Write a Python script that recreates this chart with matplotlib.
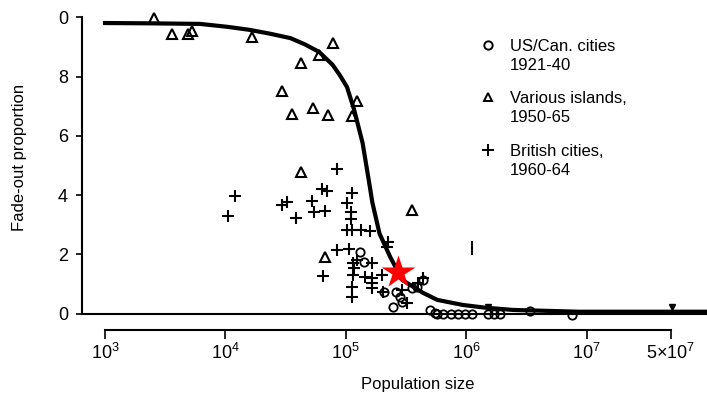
import matplotlib
matplotlib.use("Agg")
import matplotlib.pyplot as plt
import numpy as np
from matplotlib.lines import Line2D

plt.rcParams['font.family'] = ['Liberation Sans', 'DejaVu Sans']
plt.rcParams['mathtext.fontset'] = 'custom'
plt.rcParams['mathtext.rm'] = 'Liberation Sans'
plt.rcParams['mathtext.it'] = 'Liberation Sans'

# fitted curve (log10 population, fade-out proportion)
curve_logpop = [3.0, 3.37, 3.79, 4.02, 4.2, 4.37, 4.54, 4.66, 4.78, 4.89, 4.95, 5.01,
                5.07, 5.14, 5.2, 5.22, 5.28, 5.37, 5.47, 5.64, 5.76, 5.97, 6.15, 6.39,
                6.94, 7.5, 8.0]
curve_fade = [0.981, 0.980, 0.978, 0.968, 0.958, 0.945, 0.93, 0.909, 0.883, 0.840, 0.805,
              0.765, 0.687, 0.575, 0.427, 0.376, 0.27, 0.19, 0.113, 0.07, 0.046, 0.029,
              0.02, 0.012, 0.006, 0.006, 0.006]

# US/Canadian cities 1921-40
us_logpop = [5.12, 5.15, 5.32, 5.42, 5.45, 5.39, 5.47, 5.55, 5.59, 5.64, 5.70, 5.74,
             5.76, 5.81, 5.87, 5.93, 5.99, 6.05, 6.18, 6.23, 6.28, 6.53, 6.88]
us_fade = [0.208, 0.173, 0.073, 0.073, 0.056, 0.022, 0.039, 0.086, 0.090, 0.113, 0.012, 0.002,
           0.0, 0.0, 0.0, 0.0, 0.0, 0.0, 0.0, 0.0, 0.0, 0.01, -0.006]

# various islands 1950-65
isl_logpop = [3.41, 3.56, 3.69, 3.72, 4.22, 4.89, 4.78, 4.63, 4.47, 5.09, 4.73, 4.55,
              4.85, 5.05, 4.63, 5.55, 4.83]
isl_fade = [0.998, 0.944, 0.944, 0.954, 0.934, 0.914, 0.873, 0.846, 0.752, 0.718, 0.694,
            0.674, 0.671, 0.667, 0.478, 0.350, 0.191]

# British cities 1960-64
brit_logpop = [4.08, 4.02, 4.47, 4.51, 4.59, 4.72, 4.74, 4.83, 4.80, 4.84, 4.93, 5.05,
               5.01, 5.04, 5.04, 5.01, 5.05, 5.13, 5.20, 5.35, 4.93, 5.03, 4.81, 5.06,
               5.09, 5.07, 5.06, 5.16, 5.22, 5.22, 5.22, 5.05, 5.05, 5.30, 5.64, 5.60,
               5.22, 5.47, 5.51, 5.31, 5.34]
brit_fade = [0.397, 0.329, 0.367, 0.377, 0.323, 0.380, 0.343, 0.346, 0.421, 0.414, 0.488,
             0.407, 0.373, 0.343, 0.319, 0.282, 0.282, 0.282, 0.279, 0.242, 0.215, 0.218,
             0.127, 0.171, 0.181, 0.154, 0.130, 0.123, 0.120, 0.103, 0.086, 0.090, 0.056,
             0.130, 0.120, 0.103, 0.171, 0.079, 0.035, 0.073, 0.225]

# stray marks in the scan
tri_logpop = [6.18, 7.71]
tri_fade = [0.022, 0.022]
bar_logpop = [6.05]
bar_fade = [0.22]

# highlighted point
star_logpop = [5.43]
star_fade = [0.140]

yticks = [0, 0.2, 0.4, 0.6, 0.8, 1.0]
ytick_labels = ["0", "2", "4", "6", "8", "0"]
xticks = [1e3, 1e4, 1e5, 1e6, 1e7, 5e7]
xtick_labels = [r"$10^3$", r"$10^4$", r"$10^5$", r"$10^6$", r"$10^7$", r"$5{\times}10^7$"]

W, H = 707, 400
fig = plt.figure(figsize=(W / 100, H / 100), dpi=100)
ax = fig.add_axes([82 / W, 1 - 330 / H, 625 / W, 320 / H])

def p(v):
    return 10 ** np.array(v)

ax.axhline(0, color="black", lw=1.5, zorder=2)
ax.plot(p(curve_logpop), curve_fade, color="black", lw=3, zorder=3, solid_joinstyle="round")
ax.plot(p(us_logpop), us_fade, ls="none", marker="o", ms=6, mfc="none", mec="black", mew=1.3, zorder=4)
ax.plot(p(isl_logpop), isl_fade, ls="none", marker="^", ms=7, mfc="none", mec="black", mew=1.5, zorder=4)
ax.plot(p(brit_logpop), brit_fade, ls="none", marker="+", ms=8, mec="black", mew=1.5, zorder=4)
ax.plot(p(tri_logpop), tri_fade, ls="none", marker="v", ms=4, color="black", zorder=4)
ax.plot(p(bar_logpop), bar_fade, ls="none", marker="|", ms=10, mew=1.5, color="black", zorder=4)
ax.plot(p(star_logpop), star_fade, ls="none", marker="*", ms=25, color="#ff0000", mec="none", zorder=6)

ax.set_xscale("log")
ax.set_xlim(10 ** 2.809, 1e8)
ax.set_ylim(-0.0557, 1.025)

for s in ["top", "right"]:
    ax.spines[s].set_visible(False)
ax.spines["left"].set_bounds(0, 1)
ax.spines["bottom"].set_bounds(1e3, 5e7)
ax.spines["left"].set_linewidth(1.5)
ax.spines["bottom"].set_linewidth(1.5)

ax.set_yticks(yticks)
ax.set_yticklabels(ytick_labels, fontsize=13)
ax.set_xticks(xticks)
ax.set_xticklabels(xtick_labels, fontsize=13)
ax.xaxis.set_minor_locator(matplotlib.ticker.NullLocator())
ax.tick_params(axis="y", direction="out", length=4, width=1.2, pad=6)
ax.tick_params(axis="x", direction="out", length=6.5, width=1.2, pad=3)

fig.text(20 / W, 1 - 157 / H, "Fade-out proportion", rotation=90, ha="center", va="center", fontsize=12)
fig.text(418 / W, 1 - 384 / H, "Population size", ha="center", va="center", fontsize=12)

# legend
legend_rows = [("o", "US/Can. cities\n1921-40", 45), ("^", "Various islands,\n1950-65", 97),
               ("+", "British cities,\n1960-64", 150)]
for mk, label, ypx in legend_rows:
    fig.add_artist(Line2D([488 / W], [1 - ypx / H], transform=fig.transFigure, ls="none",
                          marker=mk, ms=6 if mk != "+" else 8, mfc="none", mec="black", mew=1.4))
    fig.text(510 / W, 1 - (ypx + 11) / H, label, ha="left", va="center", fontsize=12, linespacing=1.3)

fig.savefig("out.png", dpi=100)
